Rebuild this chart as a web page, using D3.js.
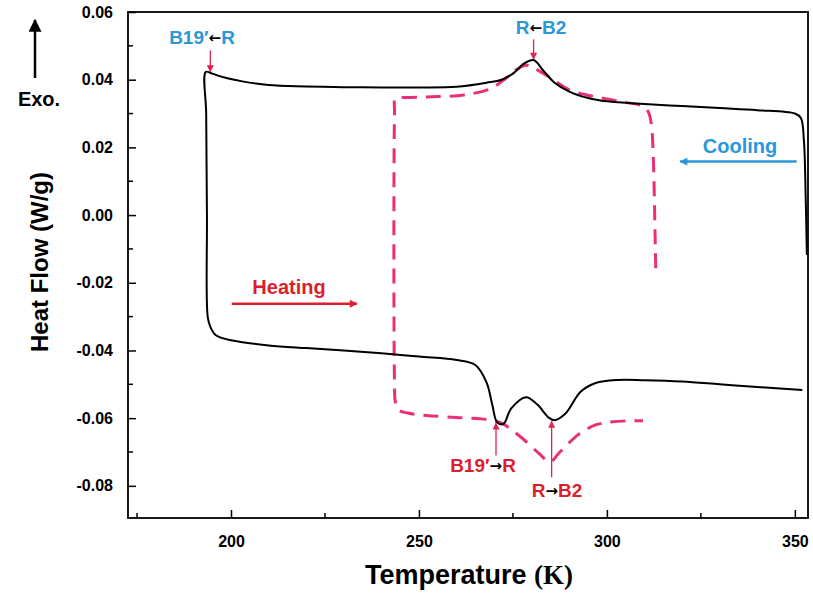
<!DOCTYPE html>
<html>
<head>
<meta charset="utf-8">
<script src="https://cdn.jsdelivr.net/npm/d3@7"></script>
<style>
  body { margin: 0; background: #fff; }
  svg { font-family: Arial, "Liberation Sans", sans-serif; }
</style>
</head>
<body>
<svg width="813" height="597"></svg>
<script>
// DSC trace, black solid: cooling from the right, then heating back
const blackT = [353.2, 352.9, 352.4, 351.6, 350, 340, 330, 320, 310, 300, 295, 290, 286, 283, 280.5, 278, 275, 272, 268, 260, 250, 240, 230, 220, 210, 203, 198, 195, 193.3,
  193.4, 193.6, 193.8, 194.5, 196, 200, 210, 220, 230, 240, 250, 260, 265, 268, 269.5, 270.8, 272.5, 274.5, 278.5, 281.5, 284.5, 286, 289, 293, 297, 303, 310, 320, 330, 340, 352];
const blackHF = [-0.0118, 0.0044, 0.0222, 0.0287, 0.0300, 0.0310, 0.0316, 0.0322, 0.0328, 0.0336, 0.0346, 0.0365, 0.0392, 0.0428, 0.0458, 0.0448, 0.0418, 0.0400, 0.0391, 0.0379, 0.0377, 0.0377, 0.0378, 0.0380, 0.0384, 0.0395, 0.0407, 0.0418, 0.0423,
  0.0300, 0.0000, -0.0300, -0.0330, -0.0355, -0.0370, -0.0385, -0.0393, -0.0400, -0.0408, -0.0418, -0.0428, -0.0443, -0.0495, -0.0560, -0.0612, -0.0617, -0.0572, -0.0538, -0.0560, -0.0598, -0.0606, -0.0586, -0.0522, -0.0496, -0.0487, -0.0488, -0.0492, -0.0500, -0.0508, -0.0517];

// pink dashed trace
const pinkT = [313.0, 312.8, 312.4, 311.9, 311.2, 310, 305, 300, 295, 290, 285, 281, 278.5, 276, 273, 269, 262, 255, 250, 245, 243.7,
  243.5, 243.5, 243.7, 244.5, 247, 252, 260, 268, 272, 277, 282, 284.8, 287.5, 292.8, 297, 300, 305, 309.6];
const pinkHF = [-0.0157, -0.0050, 0.0150, 0.0260, 0.0300, 0.0320, 0.0333, 0.0343, 0.0354, 0.0370, 0.0405, 0.0432, 0.0443, 0.0430, 0.0403, 0.0373, 0.0355, 0.0350, 0.0348, 0.0347, 0.0345,
  0.0300, -0.0500, -0.0550, -0.0575, -0.0585, -0.0592, -0.0598, -0.0604, -0.0615, -0.0655, -0.0705, -0.0730, -0.0700, -0.0645, -0.0620, -0.0613, -0.0608, -0.0608];

const xTicks = [200, 250, 300, 350];
const xMinor = [175, 225, 275, 325];
const yTicks = [0.06, 0.04, 0.02, 0.00, -0.02, -0.04, -0.06, -0.08];
const yMinor = [0.05, 0.03, 0.01, -0.01, -0.03, -0.05, -0.07];

const width = 813, height = 597;
const margin = {top: 12, right: 5, bottom: 79, left: 128};
const innerWidth = width - margin.left - margin.right;
const innerHeight = height - margin.top - margin.bottom;

const blue = "#2a98d8", red = "#dc1f2e", pink = "#ea2f78", arrowRed = "#e3204f";

const svg = d3.select("svg");
const defs = svg.append("defs");
function marker(id, color, w, h) {
  defs.append("marker")
      .attr("id", id)
      .attr("viewBox", "0 0 10 10")
      .attr("refX", 9).attr("refY", 5)
      .attr("markerUnits", "userSpaceOnUse")
      .attr("markerWidth", w).attr("markerHeight", h)
      .attr("orient", "auto")
    .append("path")
      .attr("d", "M0,0 L10,5 L0,10 Z")
      .attr("fill", color);
}
marker("hRed", arrowRed, 8, 7);
marker("hBlue", blue, 16, 8);
marker("hRedBig", red, 16, 8);
marker("hBlack", "#000", 18, 13);

const g = svg.append("g")
    .attr("transform", "translate(" + margin.left + "," + margin.top + ")");

const x = d3.scaleLinear().domain([172.6, 353.5]).range([0, innerWidth]);
const y = d3.scaleLinear().domain([-0.0895, 0.06]).range([innerHeight, 0]);

const fmtY = d => d3.format(".2f")(d).replace("\u2212", "-");

// axes with inward ticks
const xAxis = g.append("g").attr("transform", "translate(0," + innerHeight + ")");
xAxis.call(d3.axisBottom(x).tickValues(xTicks).tickSize(-8).tickPadding(18).tickFormat(d3.format("d")));
xAxis.append("g").selectAll("line").data(xMinor).enter().append("line")
    .attr("x1", d => x(d)).attr("x2", d => x(d))
    .attr("y1", 0).attr("y2", -5).attr("stroke", "#000").attr("stroke-width", 1.5);

const yAxis = g.append("g");
yAxis.call(d3.axisLeft(y).tickValues(yTicks).tickSize(-8).tickPadding(15).tickFormat(fmtY));
yAxis.append("g").selectAll("line").data(yMinor).enter().append("line")
    .attr("y1", d => y(d)).attr("y2", d => y(d))
    .attr("x1", 0).attr("x2", 5).attr("stroke", "#000").attr("stroke-width", 1.5);

[xAxis, yAxis].forEach(a => {
  a.select(".domain").remove();
  a.selectAll(".tick line").attr("stroke-width", 1.5);
  a.selectAll(".tick text")
      .attr("font-size", 16).attr("font-weight", "bold")
      .attr("font-family", "Arial, 'Liberation Sans', sans-serif")
      .attr("fill", "#000");
});
xAxis.selectAll(".tick text").attr("dy", "0.71em");

// frame
g.append("rect")
    .attr("width", innerWidth).attr("height", innerHeight)
    .attr("fill", "none").attr("stroke", "#000").attr("stroke-width", 1.8);

const line = d3.line()
    .x(d => x(d[0])).y(d => y(d[1]))
    .curve(d3.curveCatmullRom.alpha(0.5));

g.append("path")
    .datum(pinkT.map((t, i) => [t, pinkHF[i]]))
    .attr("d", line)
    .attr("fill", "none").attr("stroke", pink)
    .attr("stroke-width", 3).attr("stroke-dasharray", "15,9");

g.append("path")
    .datum(blackT.map((t, i) => [t, blackHF[i]]))
    .attr("d", line)
    .attr("fill", "none").attr("stroke", "#000")
    .attr("stroke-width", 2);

// annotation labels with the small black arrow inside
function label(px, py, left, arrow, right, color) {
  const t = g.append("text")
      .attr("x", px - margin.left).attr("y", py - margin.top)
      .attr("text-anchor", "middle")
      .attr("font-size", 19).attr("font-weight", "bold")
      .attr("fill", color);
  t.append("tspan").text(left);
  t.append("tspan").attr("fill", "#000").attr("font-size", 15)
      .attr("font-family", "'DejaVu Sans', sans-serif").attr("dy", -1).text(arrow);
  t.append("tspan").attr("dy", 1).text(right);
}
function vArrow(tx, hf1, hf2) {
  g.append("line")
      .attr("x1", x(tx)).attr("x2", x(tx))
      .attr("y1", y(hf1)).attr("y2", y(hf2))
      .attr("stroke", arrowRed).attr("stroke-width", 1.3)
      .attr("marker-end", "url(#hRed)");
}

label(202, 44, "B19\u2032", "\u2190", "R", blue);
vArrow(194.5, 0.0486, 0.0424);
label(541, 34, "R", "\u2190", "B2", blue);
vArrow(280.5, 0.0519, 0.0461);

label(483, 472, "B19\u2032", "\u2192", "R", red);
vArrow(270.5, -0.0710, -0.0615);
label(557, 497, "R", "\u2192", "B2", red);
vArrow(285.3, -0.0775, -0.0610);

// process arrows
svg.append("text").attr("x", 740).attr("y", 153)
    .attr("text-anchor", "middle").attr("font-size", 20).attr("font-weight", "bold")
    .attr("fill", blue).text("Cooling");
g.append("line")
    .attr("x1", x(350.5)).attr("x2", x(319.5))
    .attr("y1", y(0.0158)).attr("y2", y(0.0158))
    .attr("stroke", blue).attr("stroke-width", 2.5)
    .attr("marker-end", "url(#hBlue)");

svg.append("text").attr("x", 289).attr("y", 294)
    .attr("text-anchor", "middle").attr("font-size", 20).attr("font-weight", "bold")
    .attr("fill", red).text("Heating");
g.append("line")
    .attr("x1", x(200.2)).attr("x2", x(233.5))
    .attr("y1", y(-0.0262)).attr("y2", y(-0.0262))
    .attr("stroke", red).attr("stroke-width", 2.5)
    .attr("marker-end", "url(#hRedBig)");

// Exo. indicator
svg.append("line")
    .attr("x1", 35).attr("x2", 35).attr("y1", 78).attr("y2", 20)
    .attr("stroke", "#000").attr("stroke-width", 2.5)
    .attr("marker-end", "url(#hBlack)");
svg.append("text").attr("x", 39).attr("y", 106)
    .attr("text-anchor", "middle").attr("font-size", 20).attr("font-weight", "bold")
    .text("Exo.");

// axis titles
svg.append("text")
    .attr("transform", "translate(48," + 262 + ") rotate(-90)")
    .attr("text-anchor", "middle").attr("font-size", 24).attr("font-weight", "bold")
    .text("Heat Flow (W/g)");
const xt = svg.append("text")
    .attr("x", 469).attr("y", 584)
    .attr("text-anchor", "middle").attr("font-size", 27).attr("font-weight", "bold");
xt.append("tspan").text("Temperature ");
xt.append("tspan").attr("font-family", "'Liberation Serif', 'DejaVu Serif', serif").text("(K)");
</script>
</body>
</html>
